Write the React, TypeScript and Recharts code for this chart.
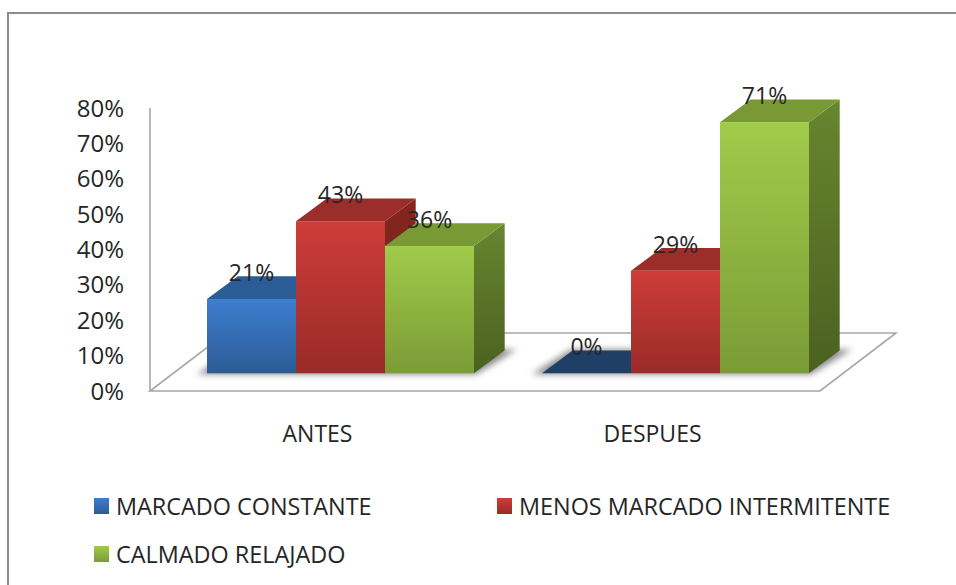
import React from "react";
import { BarChart, Bar, XAxis, YAxis, Legend, LabelList, ReferenceArea } from "recharts";

const categories = ["ANTES", "DESPUES"];
const marcado = [21, 0];
const menos = [43, 29];
const calmado = [36, 71];
const yTicks = [0, 10, 20, 30, 40, 50, 60, 70, 80];
const seriesNames = ["MARCADO CONSTANTE", "MENOS MARCADO INTERMITENTE", "CALMADO RELAJADO"];

const rows = categories.map((name, i) => ({ name, marcado: marcado[i], menos: menos[i], calmado: calmado[i] }));

const FONT = "'Open Sans', 'Noto Sans', sans-serif";
const TEXT = "#262626";
const AXIS = "#a6a6a6";
const SHIFT_X = 23;
const SHIFT_Y = -17.7;
const DEPTH_X = 30.7;
const DEPTH_Y = 22.7;
const FLOOR_X = 76;
const FLOOR_Y = 58;
const GROUP = 267;

const palette = {
  blue: { id: "gBlue", hi: "#3d7ed0", lo: "#2c5b94", top: "#2c5c96", sideHi: "#25507f", sideLo: "#1f3f66", zero: "#1f3f66" },
  red: { id: "gRed", hi: "#ce3d39", lo: "#992b28", top: "#9b2d2a", sideHi: "#85261f", sideLo: "#6e1f1c", zero: "#9b2d2a" },
  green: { id: "gGreen", hi: "#a1cb4a", lo: "#7b9b36", top: "#799935", sideHi: "#67862f", sideLo: "#4a6120", zero: "#799935" },
};

function Bar3D(props: any) {
  const { x, y, width, height, pal } = props;
  const fx = x + SHIFT_X;
  const ty = y + SHIFT_Y;
  const by = ty + height;
  const r = fx + width;
  return (
    <g>
      <polygon
        points={`${r},${ty} ${r + DEPTH_X},${ty - DEPTH_Y} ${r + DEPTH_X},${by - DEPTH_Y} ${r},${by}`}
        fill={`url(#${pal.id}Side)`}
      />
      <polygon
        points={`${fx},${ty} ${fx + DEPTH_X},${ty - DEPTH_Y} ${r + DEPTH_X},${ty - DEPTH_Y} ${r},${ty}`}
        fill={height < 1 ? pal.zero : pal.top}
      />
      {height >= 1 && <rect x={fx} y={ty} width={width} height={height} fill={`url(#${pal.id})`} />}
    </g>
  );
}

function DataLabel(props: any) {
  const { x, y, width, value } = props;
  return (
    <text
      x={x + SHIFT_X + width / 2}
      y={y + SHIFT_Y - 27}
      textAnchor="middle"
      dominantBaseline="central"
      fontFamily={FONT}
      fontSize={23}
      fill={TEXT}
    >
      {`${value}%`}
    </text>
  );
}

function Floor(props: any) {
  const { x, y, width, height } = props;
  const b = y + height;
  const band = width / categories.length;
  const base = b + SHIFT_Y;
  return (
    <g>
      <polygon
        points={`${x},${b} ${x + width},${b} ${x + width + FLOOR_X},${b - FLOOR_Y} ${x + FLOOR_X},${b - FLOOR_Y}`}
        fill="#ffffff"
        stroke={AXIS}
        strokeWidth={1.6}
      />
      {categories.map((c, i) => {
        const l = x + band * (i + 0.5) + SHIFT_X - GROUP / 2;
        const r = l + GROUP;
        return (
          <polygon
            key={c}
            points={`${l - 10},${base + 1} ${r + 2},${base + 1} ${r + DEPTH_X + 12},${base - DEPTH_Y - 1} ${l + DEPTH_X - 2},${base - DEPTH_Y - 1}`}
            fill="#8a8a8a"
            filter="url(#floorShadow)"
          />
        );
      })}
    </g>
  );
}

function LegendBox(props: any) {
  const swatches = [palette.blue, palette.red, palette.green];
  return (
    <div style={{ display: "flex", flexWrap: "wrap", width: 806, fontFamily: FONT, fontSize: 23.4, color: TEXT }}>
      {seriesNames.map((n, i) => (
        <div key={n} style={{ width: 403, height: 48, display: "flex", alignItems: "center", whiteSpace: "nowrap" }}>
          <span
            style={{
              width: 15,
              height: 16,
              marginRight: 7,
              flex: "none",
              background: `linear-gradient(${swatches[i].hi}, ${swatches[i].lo})`,
            }}
          />
          {n}
        </div>
      ))}
    </div>
  );
}

export default function App() {
  return (
    <div style={{ position: "absolute", left: 0, top: 0, width: 956, height: 585, background: "#fff", overflow: "hidden" }}>
      <div style={{ position: "absolute", left: 7, top: 12, width: 949, height: 573, borderLeft: "2px solid #8c8c8c", borderTop: "2px solid #8c8c8c", boxSizing: "border-box" }} />
      <div style={{ position: "absolute", left: 0, top: 0 }}>
        <BarChart
          width={956}
          height={585}
          data={rows}
          margin={{ top: 108, right: 136, bottom: 0, left: 0 }}
          barSize={89}
          barGap={0}
        >
          <defs>
            {Object.values(palette).map((p) => (
              <React.Fragment key={p.id}>
                <linearGradient id={p.id} x1="0" y1="0" x2="0" y2="1">
                  <stop offset="0" stopColor={p.hi} />
                  <stop offset="1" stopColor={p.lo} />
                </linearGradient>
                <linearGradient id={`${p.id}Side`} x1="0" y1="0" x2="0" y2="1">
                  <stop offset="0" stopColor={p.sideHi} />
                  <stop offset="1" stopColor={p.sideLo} />
                </linearGradient>
              </React.Fragment>
            ))}
            <filter id="floorShadow" x="-20%" y="-50%" width="140%" height="200%">
              <feGaussianBlur stdDeviation="3" />
            </filter>
          </defs>
          <XAxis
            dataKey="name"
            height={98}
            axisLine={false}
            tickLine={false}
            tickMargin={29}
            tick={{ fontFamily: FONT, fontSize: 23, fill: TEXT }}
          />
          <YAxis
            width={150}
            domain={[0, 80]}
            ticks={yTicks}
            interval={0}
            tickFormatter={(v: number) => `${v}%`}
            axisLine={{ stroke: AXIS, strokeWidth: 1.6 }}
            tickLine={false}
            tickMargin={20}
            tick={{ fontFamily: FONT, fontSize: 24, fill: TEXT }}
          />
          <ReferenceArea y1={0} y2={80} shape={<Floor />} />
          <Legend
            content={<LegendBox />}
            wrapperStyle={{ position: "absolute", left: 94, top: 482, width: 806, bottom: "auto" }}
          />
          <Bar dataKey="marcado" name={seriesNames[0]} fill={palette.blue.hi} isAnimationActive={false} shape={<Bar3D pal={palette.blue} />}>
            <LabelList dataKey="marcado" content={<DataLabel />} />
          </Bar>
          <Bar dataKey="menos" name={seriesNames[1]} fill={palette.red.hi} isAnimationActive={false} shape={<Bar3D pal={palette.red} />}>
            <LabelList dataKey="menos" content={<DataLabel />} />
          </Bar>
          <Bar dataKey="calmado" name={seriesNames[2]} fill={palette.green.hi} isAnimationActive={false} shape={<Bar3D pal={palette.green} />}>
            <LabelList dataKey="calmado" content={<DataLabel />} />
          </Bar>
        </BarChart>
      </div>
    </div>
  );
}
